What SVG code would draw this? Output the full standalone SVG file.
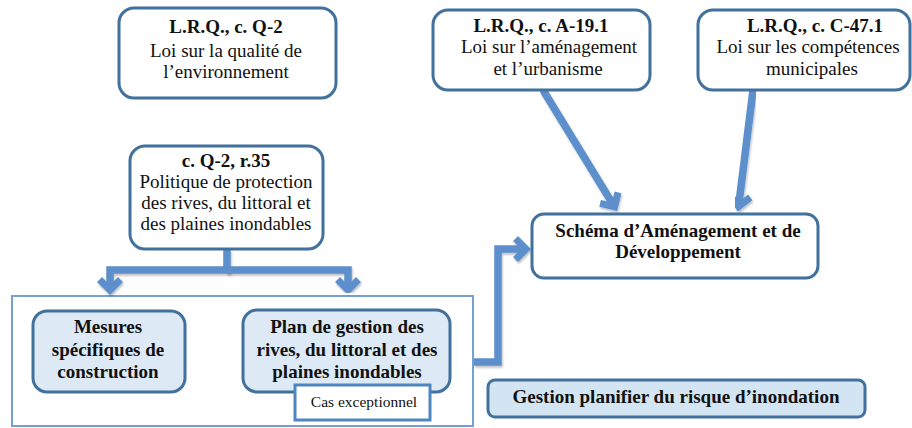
<svg xmlns="http://www.w3.org/2000/svg" width="912" height="428" viewBox="0 0 912 428">
  <style>
    .box { fill: #ffffff; stroke: #41719c; stroke-width: 3; }
    .tint { fill: #dde9f4; stroke: #41719c; stroke-width: 3; }
    .goal { fill: #d3e5f3; stroke: #41719c; stroke-width: 3; }
    .frame { fill: #ffffff; stroke: #76a0d2; stroke-width: 2; }
    .note { fill: #ffffff; stroke: #4f86c0; stroke-width: 3; }
    .t { font-family: "Liberation Serif", "Times New Roman", serif; font-size: 19px; fill: #111111; text-anchor: middle; }
    .b { font-weight: bold; }
    .s { font-size: 15.5px; }
    .arrow { fill: none; stroke: #5b8fcb; stroke-width: 7.5; stroke-linejoin: miter; marker-end: url(#chev); filter: url(#soft); }
  </style>
  <defs>
    <marker id="chev" markerUnits="userSpaceOnUse" viewBox="-20 -15 27 30" refX="-6" refY="0" markerWidth="27" markerHeight="30" orient="auto" overflow="visible">
      <polygon points="0,0 -13,-13 -18,-8 -10,0 -18,8 -13,13" fill="#5b8fcb"/>
    </marker>
    <filter id="soft" x="-20%" y="-20%" width="140%" height="140%">
      <feGaussianBlur in="SourceAlpha" stdDeviation="1.2"/>
      <feOffset dx="1" dy="1.5" result="sh"/>
      <feComponentTransfer><feFuncA type="linear" slope="0.25"/></feComponentTransfer>
      <feMerge><feMergeNode/><feMergeNode in="SourceGraphic"/></feMerge>
    </filter>
  </defs>

  <!-- enclosing frame for the two outcome boxes -->
  <g id="outcomes-frame">
    <rect class="frame" x="12" y="296" width="461" height="130"/>
  </g>

  <g id="connectors">
    <path class="arrow" d="M227,98 V139"/>
    <path class="arrow" d="M227,250 V270 H110 V289"/>
    <path class="arrow" d="M227,270 H348 V289"/>
    <path class="arrow" d="M474,362 H498 V249 H525"/>
    <path class="arrow" d="M543,90 L614,206"/>
    <path class="arrow" d="M753,90 L738.7,205.5"/>
    <path class="arrow" d="M677,278 V372"/>
  </g>

  <g id="lqe">
    <rect class="box" x="119" y="8" width="217" height="90" rx="15"/>
    <text class="t b" x="226" y="33">L.R.Q., c. Q-2</text>
    <text class="t" x="226" y="57">Loi sur la qualité de</text>
    <text class="t" x="226" y="78">l’environnement</text>
  </g>

  <g id="politique">
    <rect class="box" x="130" y="146" width="193" height="103" rx="15"/>
    <text class="t b" x="226" y="167">c. Q-2, r.35</text>
    <text class="t" x="226" y="188">Politique de protection</text>
    <text class="t" x="226" y="209">des rives, du littoral et</text>
    <text class="t" x="226" y="230">des plaines inondables</text>
  </g>

  <g id="lau">
    <rect class="box" x="433" y="10" width="217" height="80" rx="15"/>
    <text class="t b" x="541" y="32">L.R.Q., c. A-19.1</text>
    <text class="t" x="549" y="53">Loi sur l’aménagement</text>
    <text class="t" x="548" y="75">et l’urbanisme</text>
  </g>

  <g id="lcm">
    <rect class="box" x="698" y="10" width="212" height="80" rx="15"/>
    <text class="t b" x="815" y="32">L.R.Q., c. C-47.1</text>
    <text class="t" x="808" y="53">Loi sur les compétences</text>
    <text class="t" x="812" y="75">municipales</text>
  </g>

  <g id="schema">
    <rect class="box" x="532" y="214" width="286" height="64" rx="12"/>
    <text class="t b" x="678" y="237">Schéma d’Aménagement et de</text>
    <text class="t b" x="678" y="258">Développement</text>
  </g>

  <g id="mesures">
    <rect class="tint" x="33" y="311" width="152" height="81" rx="14"/>
    <text class="t b" x="108" y="333">Mesures</text>
    <text class="t b" x="108" y="356">spécifiques de</text>
    <text class="t b" x="108" y="378">construction</text>
  </g>

  <g id="plan">
    <rect class="tint" x="243" y="310" width="207" height="82" rx="14"/>
    <text class="t b" x="347" y="333">Plan de gestion des</text>
    <text class="t b" x="347" y="356">rives, du littoral et des</text>
    <text class="t b" x="347" y="378">plaines inondables</text>
  </g>

  <g id="cas">
    <rect class="note" x="295" y="385" width="135" height="35"/>
    <text class="t s" x="364" y="407">Cas exceptionnel</text>
  </g>

  <g id="gestion">
    <rect class="goal" x="488" y="380" width="377" height="37" rx="7"/>
    <text class="t b" x="676" y="403">Gestion planifier du risque d’inondation</text>
  </g>
</svg>
